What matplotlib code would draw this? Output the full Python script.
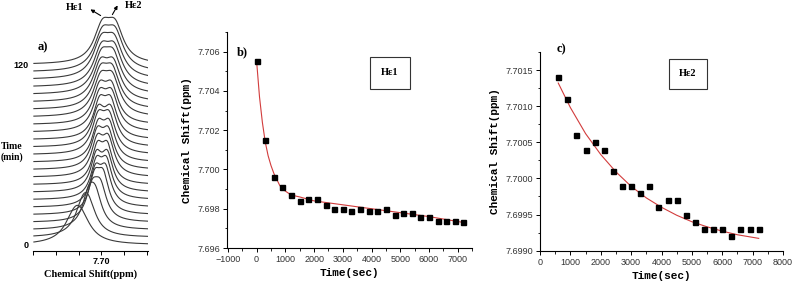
import numpy as np
import matplotlib
matplotlib.use("Agg")
import matplotlib.pyplot as plt
from matplotlib.patches import FancyArrowPatch
from matplotlib.ticker import MultipleLocator, FormatStrFormatter

# --- a) stacked spectra, one trace every 5 min ---
times_min = [0, 5, 10, 15, 20, 25, 30, 35, 40, 45, 50, 55, 60,
             65, 70, 75, 80, 85, 90, 95, 100, 105, 110, 115, 120]
he1_ppm = [7.7059, 7.7041, 7.7028, 7.7020, 7.7015, 7.7013, 7.7011, 7.7011, 7.7009,
           7.7009, 7.7009, 7.7007, 7.7007, 7.7007, 7.7004, 7.7004, 7.7004, 7.7002,
           7.7002, 7.7002, 7.7000, 7.7000, 7.7000, 7.6998, 7.6998]
he2_ppm = [7.7046, 7.7028, 7.7013, 7.7002, 7.6996, 7.6991, 7.6989, 7.6987, 7.6987,
           7.6985, 7.6985, 7.6983, 7.6983, 7.6980, 7.6980, 7.6978, 7.6978, 7.6976,
           7.6976, 7.6974, 7.6974, 7.6972, 7.6972, 7.6970, 7.6970]
half_width = [0.0026, 0.0020, 0.0017, 0.0016, 0.0015, 0.0015, 0.0015, 0.0015, 0.0015,
              0.0016, 0.0016, 0.0016, 0.0017, 0.0017, 0.0017, 0.0018, 0.0018, 0.0020,
              0.0020, 0.0020, 0.0021, 0.0021, 0.0022, 0.0022, 0.0022]
peak_amp = [14, 16.5, 19, 20, 22, 22, 22, 22, 22, 22, 22, 22, 22,
            22, 22, 22, 22, 22, 22, 22, 22, 22, 22, 22, 22]

# --- b) He1 shift vs time ---
t_b = [0, 300, 600, 900, 1200, 1500, 1800, 2100, 2400, 2700, 3000, 3300, 3600,
       3900, 4200, 4500, 4800, 5100, 5400, 5700, 6000, 6300, 6600, 6900, 7200]
shift_b = [7.7055, 7.7015, 7.6996, 7.6991, 7.6987, 7.6984, 7.6985, 7.6985, 7.6982,
           7.6980, 7.6980, 7.6979, 7.6980, 7.6979, 7.6979, 7.6980, 7.6977, 7.6978,
           7.6978, 7.6976, 7.6976, 7.6974, 7.6974, 7.6974, 7.6973]
fit_t_b = [0, 100, 200, 300, 400, 500, 600, 700, 800, 900, 1000, 1200, 1500,
           2000, 3000, 4000, 5000, 6000, 7200]
fit_y_b = [7.7055, 7.7037, 7.7024, 7.7014, 7.7007, 7.7002, 7.6998, 7.6995, 7.6992,
           7.6990, 7.6989, 7.6987, 7.6986, 7.6984, 7.6982, 7.6980, 7.6978, 7.6976, 7.6973]

# --- c) He2 shift vs time ---
t_c = [600, 900, 1200, 1500, 1800, 2100, 2400, 2700, 3000, 3300, 3600, 3900,
       4200, 4500, 4800, 5100, 5400, 5700, 6000, 6300, 6600, 6900, 7200]
shift_c = [7.7014, 7.7011, 7.7006, 7.7004, 7.7005, 7.7004, 7.7001, 7.6999, 7.6999,
           7.6998, 7.6999, 7.6996, 7.6997, 7.6997, 7.6995, 7.6994, 7.6993, 7.6993,
           7.6993, 7.6992, 7.6993, 7.6993, 7.6993]
fit_t_c = [600, 1000, 1500, 2000, 2500, 3000, 3500, 4000, 4500, 5000, 5500, 6000, 6500, 7200]
fit_y_c = [7.70132, 7.70098, 7.70062, 7.70033, 7.70009, 7.69989, 7.69973, 7.69960,
           7.69949, 7.69940, 7.69933, 7.69927, 7.69922, 7.69917]

SERIF = "Liberation Serif"
MONO = "Liberation Mono"
SANS = "Liberation Sans"

fig = plt.figure(figsize=(7.93, 2.81), dpi=100)

# ---------------- panel a ----------------
ax_a = fig.add_axes([0.0416, 0.107, 0.145, 0.893])
ppm = np.linspace(7.6898, 7.7148, 400)
for t, c1, c2, w, a in zip(times_min, he1_ppm, he2_ppm, half_width, peak_amp):
    trace = a / (1 + ((ppm - c1) / w) ** 2) + a / (1 + ((ppm - c2) / w) ** 2)
    ax_a.plot(ppm, t + trace, color="#3a3a3a", lw=0.8)
ax_a.set_xlim(7.7148, 7.6898)
ax_a.set_ylim(-4, 163)
for s in ["left", "top", "right"]:
    ax_a.spines[s].set_visible(False)
ax_a.spines["bottom"].set_linewidth(0.8)
ax_a.set_xticks([7.715, 7.710, 7.705, 7.700, 7.695, 7.690])
ax_a.set_xticklabels(["", "", "", "7.70", "", ""])
ax_a.tick_params(axis="x", direction="out", length=3, width=0.7, pad=1.5, labelsize=6.5)
for lab in ax_a.get_xticklabels():
    lab.set_fontfamily(SANS)
    lab.set_fontweight("bold")
ax_a.set_yticks([0, 120])
ax_a.set_yticklabels(["0", "120"], fontsize=6.5, fontfamily=SANS, fontweight="bold")
ax_a.tick_params(axis="y", length=0, pad=3)
ax_a.set_xlabel("Chemical Shift(ppm)", fontfamily=SERIF, fontweight="bold", fontsize=7.5, labelpad=2)
ax_a.text(0.04, 0.80, "a)", transform=ax_a.transAxes, fontfamily=SERIF,
          fontweight="bold", fontsize=9)
fig.text(12 / 793, 1 - 152 / 281, "Time\n(min)", ha="center", va="center",
         fontfamily=SERIF, fontweight="bold", fontsize=7, linespacing=1.2)

# peak labels with arrows
fig.text(75 / 793, 1 - 8 / 281, "Hε1", ha="center", va="center",
         fontfamily=SERIF, fontweight="bold", fontsize=7.5)
fig.text(134 / 793, 1 - 6 / 281, "Hε2", ha="center", va="center",
         fontfamily=SERIF, fontweight="bold", fontsize=7.5)
fig.add_artist(FancyArrowPatch(
    (103 / 793, 1 - 17 / 281), (88 / 793, 1 - 8 / 281), transform=fig.transFigure,
    arrowstyle="-|>", mutation_scale=5, lw=0.8, color="black"))
fig.add_artist(FancyArrowPatch(
    (111 / 793, 1 - 17 / 281), (119 / 793, 1 - 3 / 281), transform=fig.transFigure,
    arrowstyle="-|>", mutation_scale=5, lw=0.8, color="black"))


def style_axes(ax):
    ax.spines["top"].set_visible(False)
    ax.spines["right"].set_visible(False)
    ax.spines["left"].set_linewidth(0.8)
    ax.spines["bottom"].set_linewidth(0.8)
    ax.tick_params(which="major", direction="out", length=3, width=0.7, labelsize=6.5,
                   pad=2, labelcolor="#333333")
    ax.tick_params(which="minor", direction="out", length=1.8, width=0.6)
    for lab in ax.get_xticklabels() + ax.get_yticklabels():
        lab.set_fontfamily(SANS)
    ax.set_xlabel("Time(sec)", fontfamily=MONO, fontweight="bold", fontsize=8, labelpad=3)
    ax.set_ylabel("Chemical Shift(ppm)", fontfamily=MONO, fontweight="bold", fontsize=8, labelpad=4)


# ---------------- panel b ----------------
ax_b = fig.add_axes([0.2863, 0.1174, 0.309, 0.7687])
ax_b.plot(fit_t_b, fit_y_b, color="#d23c3c", lw=0.8)
ax_b.plot(t_b, shift_b, "s", color="black", ms=3.6)
ax_b.set_xlim(-1030, 7500)
ax_b.set_ylim(7.696, 7.707)
ax_b.xaxis.set_major_locator(MultipleLocator(1000))
ax_b.xaxis.set_minor_locator(MultipleLocator(500))
ax_b.yaxis.set_major_locator(MultipleLocator(0.002))
ax_b.yaxis.set_minor_locator(MultipleLocator(0.001))
ax_b.yaxis.set_major_formatter(FormatStrFormatter("%.3f"))
style_axes(ax_b)
ax_b.text(0.04, 0.907, "b)", transform=ax_b.transAxes, fontfamily=SERIF,
          fontweight="bold", fontsize=9, va="center")
fig.text(390 / 793, 1 - 73 / 281, "Hε1", ha="center", va="center",
         fontfamily=SERIF, fontweight="bold", fontsize=7.5,
         bbox=dict(boxstyle="square,pad=1.1", fc="white", ec="#333333", lw=0.8))

# ---------------- panel c ----------------
ax_c = fig.add_axes([0.681, 0.108, 0.3064, 0.707])
ax_c.plot(fit_t_c, fit_y_c, color="#d23c3c", lw=0.8)
ax_c.plot(t_c, shift_c, "s", color="black", ms=3.6)
ax_c.set_xlim(0, 8000)
ax_c.set_ylim(7.6990, 7.70175)
ax_c.xaxis.set_major_locator(MultipleLocator(1000))
ax_c.xaxis.set_minor_locator(MultipleLocator(500))
ax_c.yaxis.set_major_locator(MultipleLocator(0.0005))
ax_c.yaxis.set_minor_locator(MultipleLocator(0.00025))
ax_c.yaxis.set_major_formatter(FormatStrFormatter("%.4f"))
style_axes(ax_c)
ax_c.text(0.07, 1.015, "c)", transform=ax_c.transAxes, fontfamily=SERIF,
          fontweight="bold", fontsize=9, va="center")
fig.text(688 / 793, 1 - 74 / 281, "Hε2", ha="center", va="center",
         fontfamily=SERIF, fontweight="bold", fontsize=7.5,
         bbox=dict(boxstyle="square,pad=1.0", fc="white", ec="#333333", lw=0.8))

fig.savefig("out.png", dpi=100)
